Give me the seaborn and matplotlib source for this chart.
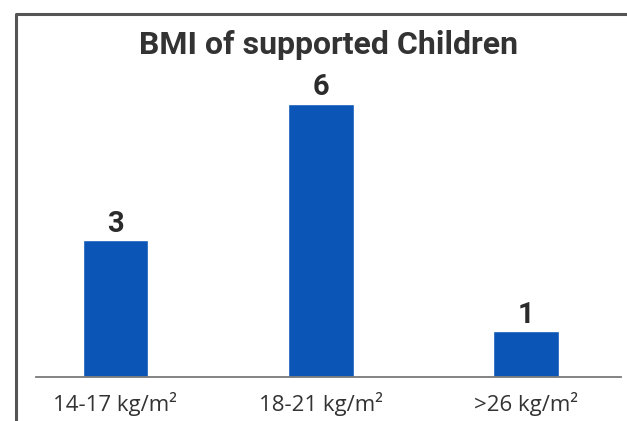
import matplotlib
matplotlib.use("Agg")
import matplotlib.pyplot as plt
from matplotlib.lines import Line2D
import seaborn as sns
import pandas as pd

# Data
categories = ["14-17 kg/m²", "18-21 kg/m²", ">26 kg/m²"]
children = [3, 6, 1]
title = "BMI of supported Children"

df = pd.DataFrame({"bmi": categories, "count": children})

sns.set_style("white")
plt.rcParams["font.family"] = ["Roboto", "DejaVu Sans"]

W, H = 627, 421
fig = plt.figure(figsize=(W / 100, H / 100), dpi=100)
ax = fig.add_axes([36 / W, 1 - 377 / H, (621 - 36) / W, (377 - 16) / H])

sns.barplot(data=df, x="bmi", y="count", color="#0a55b5", saturation=1,
            width=0.32, ax=ax)

ax.set_xlim(-0.387, 2.463)
ax.set_ylim(0, 7.93)
ax.set_xlabel("")
ax.set_ylabel("")
ax.set_yticks([])
for s in ["left", "right", "top"]:
    ax.spines[s].set_visible(False)
ax.spines["bottom"].set_color("#7a7a7a")
ax.spines["bottom"].set_linewidth(1.3)
ax.tick_params(axis="x", length=0, pad=11, labelsize=16, colors="#333333")
for lbl in ax.get_xticklabels():
    lbl.set_family(["Open Sans", "DejaVu Sans"])

# value labels
ax.bar_label(ax.containers[0], padding=2, fontsize=21, fontweight="bold",
             color="#2b2b2b")

# title
fig.text(329 / W, 1 - 45 / H, title, ha="center", va="center",
         fontsize=23, fontweight="bold", color="#333333")

# frame (left and top edges)
fig.add_artist(Line2D([16 / W, 16 / W, 1.0], [0.0, 1 - 14 / H, 1 - 14 / H],
                      transform=fig.transFigure, color="#555555", lw=2.2))

fig.savefig("out.png", dpi=100)
